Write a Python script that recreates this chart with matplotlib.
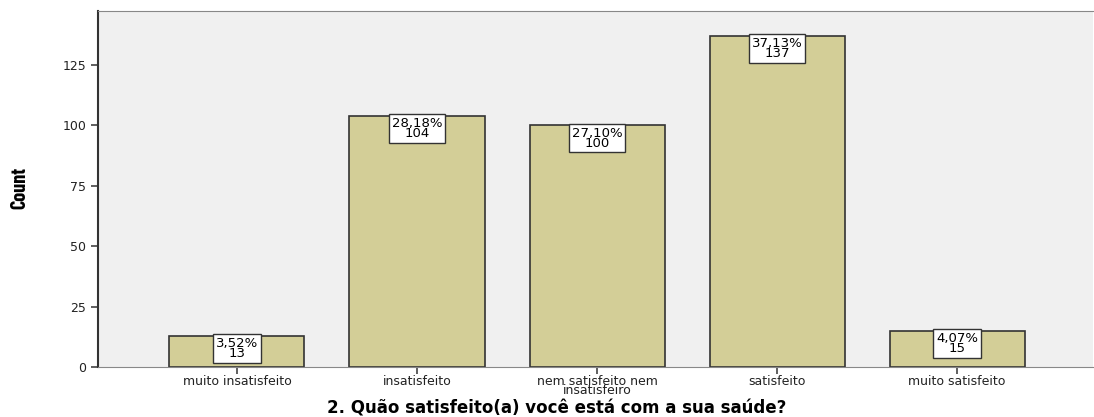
import matplotlib
matplotlib.use("Agg")
import matplotlib.pyplot as plt

categories = ["muito insatisfeito", "insatisfeito", "nem satisfeito nem\ninsatisfeiro", "satisfeito", "muito satisfeito"]
counts = [13, 104, 100, 137, 15]
percents = ["3,52%", "28,18%", "27,10%", "37,13%", "4,07%"]
yticks = [0, 25, 50, 75, 100, 125]

fig = plt.figure(figsize=(10.94, 4.17), dpi=100)
ax = fig.add_axes([98/1094, 1-367/417, 995/1094, 356/417])
ax.set_facecolor("#F0F0F0")

x = list(range(len(categories)))
ax.bar(x, counts, width=0.75, color="#D3CE97", edgecolor="#333333", linewidth=1.2, zorder=2)
for xi, c, p in zip(x, counts, percents):
    ax.text(xi, c - 0.5, f"{p}\n{c}", ha="center", va="top", fontsize=9.5, linespacing=0.72,
            bbox=dict(boxstyle="square,pad=0.2", fc="white", ec="#333333", lw=1), zorder=3)

ax.set_xlim(-0.772, 4.755)
ax.set_ylim(0, 147.3)
ax.set_yticks(yticks)
ax.set_yticklabels([str(t) for t in yticks], fontsize=9, color="#222222")
ax.set_xticks(x)
ax.set_xticklabels(categories, fontsize=9, linespacing=0.6, color="#222222")
ax.tick_params(axis="both", length=5, width=1.2, color="#444444")
ax.tick_params(axis="x", pad=1)

for s in ["top", "bottom", "right"]:
    ax.spines[s].set_color("#888888")
ax.spines["right"].set_visible(False)
ax.spines["left"].set_color("#333333")
ax.spines["left"].set_linewidth(1.5)

fig.text(20/1094, 1-188/417, "Count", rotation=90, ha="center", va="center", fontsize=14.5,
         fontweight="bold", family=["Barlow Condensed", "DejaVu Sans"])
fig.text(0.5 + 10/1094, 1-408/417, "2. Quão satisfeito(a) você está com a sua saúde?", ha="center", va="center",
         fontsize=12, fontweight="bold")

fig.savefig("out.png", dpi=100)
